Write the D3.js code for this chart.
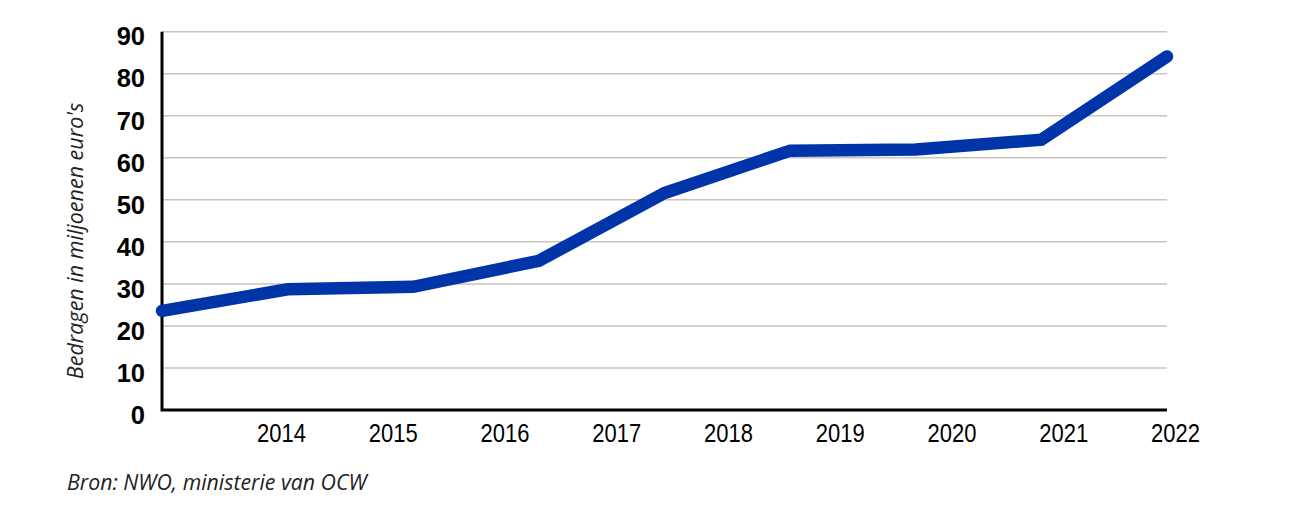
<!DOCTYPE html>
<html>
<head>
<meta charset="utf-8">
<script src="https://cdn.jsdelivr.net/npm/d3@7"></script>
<style>
  body { margin: 0; background: #fff; }
</style>
</head>
<body>
<div id="canvas"></div>
<script>
"use strict"

// data
let years = [2014, 2015, 2016, 2017, 2018, 2019, 2020, 2021, 2022];
let amounts = [23.6, 28.7, 29.3, 35.5, 51.6, 61.7, 62.0, 64.3, 84.1];
let yTicks = [0, 10, 20, 30, 40, 50, 60, 70, 80, 90];
let yTitle = "Bedragen in miljoenen euro's";
let source = "Bron: NWO, ministerie van OCW";

let width = 1300;
let height = 506;
let plotLeft = 162;
let plotRight = 1167;
let plotTop = 31.7;
let plotBottom = 410;

let drawing = d3.select("#canvas")
    .append("svg")
    .attr("width", width)
    .attr("height", height);

// the line points and the year labels do not share the same spacing
let x = d3.scalePoint()
    .domain(years)
    .range([plotLeft, plotRight]);

let xLabels = d3.scalePoint()
    .domain(years)
    .range([281, 1175]);

let y = d3.scaleLinear()
    .domain([0, 90])
    .range([plotBottom, plotTop]);

// gridlines
drawing.append("g")
    .selectAll("line")
    .data(yTicks.filter(d => d > 0))
    .join("line")
    .attr("x1", plotLeft)
    .attr("x2", plotRight)
    .attr("y1", d => y(d))
    .attr("y2", d => y(d))
    .attr("stroke", "#c9c5bf")
    .attr("stroke-width", 1.5);

// y tick labels
let yAxis = drawing.append("g")
    .attr("transform", "translate(" + plotLeft + ",0)")
    .call(d3.axisLeft(y).tickValues(yTicks).tickSize(0).tickPadding(17));
yAxis.select(".domain").remove();
yAxis.selectAll("text")
    .attr("dy", "0.52em")
    .attr("font-family", "'Liberation Sans', Arial, sans-serif")
    .attr("font-weight", "bold")
    .attr("font-size", 25.5)
    .attr("fill", "#000");

// x tick labels, squeezed to look like a narrow face
let xAxis = drawing.append("g")
    .attr("transform", "translate(0," + plotBottom + ")")
    .call(d3.axisBottom(xLabels).tickSize(0).tickPadding(13));
xAxis.select(".domain").remove();
xAxis.selectAll("text")
    .attr("transform", "scale(0.83,1)")
    .attr("font-family", "'Liberation Sans', Arial, sans-serif")
    .attr("font-size", 26.5)
    .attr("fill", "#000");

// axis lines
drawing.append("path")
    .attr("d", "M" + plotLeft + "," + plotTop + "V" + plotBottom + "H" + plotRight)
    .attr("fill", "none")
    .attr("stroke", "#000")
    .attr("stroke-width", 3);

// the line
let line = d3.line()
    .x((d, i) => x(years[i]))
    .y(d => y(d));

drawing.append("path")
    .datum(amounts)
    .attr("d", line)
    .attr("fill", "none")
    .attr("stroke", "#0035a9")
    .attr("stroke-width", 12.5)
    .attr("stroke-linecap", "round")
    .attr("stroke-linejoin", "miter");

// y title
drawing.append("text")
    .attr("transform", "translate(83,241) rotate(-90)")
    .attr("text-anchor", "middle")
    .attr("font-family", "'Open Sans', sans-serif")
    .attr("font-style", "italic")
    .attr("font-size", 21.5)
    .attr("fill", "#222")
    .text(yTitle);

// source
drawing.append("text")
    .attr("x", 67)
    .attr("y", 490)
    .attr("font-family", "'Open Sans', sans-serif")
    .attr("font-style", "italic")
    .attr("font-size", 21.3)
    .attr("fill", "#222")
    .text(source);
</script>
</body>
</html>
